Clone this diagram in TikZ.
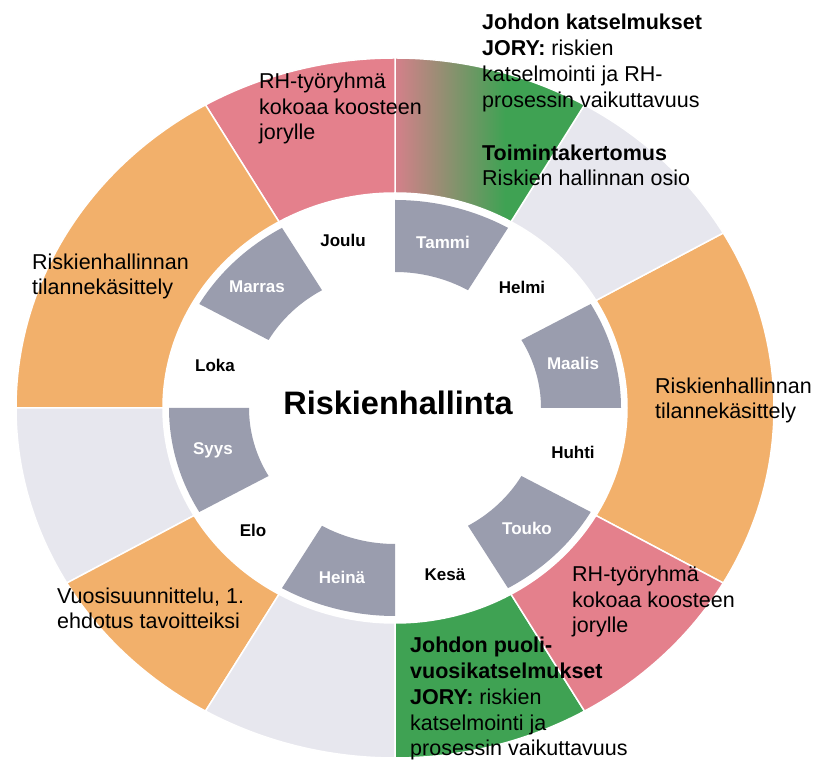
\documentclass[tikz,border=0pt]{standalone}
\usepackage{fontspec}
\setmainfont{Liberation Sans}
\definecolor{rorange}{HTML}{F2B06B}
\definecolor{rpink}{HTML}{E4808C}
\definecolor{rgreyl}{HTML}{E7E7EE}
\definecolor{rgreen}{HTML}{3FA253}
\definecolor{rmonth}{HTML}{9A9DAE}
\newcommand\osecpath[2]{(#1:379 and 350) arc[start angle=#1, end angle=#2, x radius=379, y radius=350] -- (#2:232 and 215) arc[start angle=#2, end angle=#1, x radius=232, y radius=215] -- cycle}
\newcommand\osec[3]{\path[seg, fill=#1] \osecpath{#2}{#3};}
\newcommand\msec[2]{\path[fill=rmonth] (#1:226 and 208) arc[start angle=#1, end angle=#2, x radius=226, y radius=208] -- (#2:146 and 136) arc[start angle=#2, end angle=#1, x radius=146, y radius=136] -- cycle;}
\begin{document}
\begin{tikzpicture}[x=1pt,y=1pt,
  seg/.style={draw=white, line width=1.5pt},
  outtext/.style={font=\fontsize{21.5}{25.8}\selectfont, align=left, anchor=base west, inner sep=0pt},
  mon/.style={font=\bfseries\fontsize{17}{20}\selectfont, inner sep=0pt},
  monw/.style={mon, text=white}]
\useasboundingbox (0,0) rectangle (820,763);
\fill[white] (0,0) rectangle (820,763);
\begin{scope}[shift={(395,355)}]
  \osec{rorange}{-30}{30}
  \osec{rgreyl}{30}{60}
  \begin{scope}
    \clip \osecpath{60}{90};
    \fill[rgreen] (-10,100) rectangle (400,400);
    \shade[left color=rpink!85!gray, right color=rgreen] (0,100) rectangle (110,400);
  \end{scope}
  \path[seg] \osecpath{60}{90};
  \osec{rpink}{90}{120}
  \osec{rorange}{120}{180}
  \osec{rgreyl}{180}{210}
  \osec{rorange}{210}{240}
  \osec{rgreyl}{240}{270}
  \osec{rgreen}{270}{300}
  \osec{rpink}{300}{330}
  \msec{60}{90}
  \msec{0}{30}
  \msec{300}{330}
  \msec{240}{270}
  \msec{180}{210}
  \msec{120}{150}
\end{scope}
% month labels
\node[mon]  (joulu)  at (343,523) {Joulu};
\node[monw] (tammi)  at (443,521) {Tammi};
\node[mon]  (helmi)  at (522,476) {Helmi};
\node[monw] (maalis) at (573,400) {Maalis};
\node[mon]  (huhti)  at (573,311) {Huhti};
\node[monw] (touko)  at (527,235) {Touko};
\node[mon]  (kesa)   at (445,188) {Kesä};
\node[monw] (heina)  at (342,186) {Heinä};
\node[mon]  (elo)    at (253,233) {Elo};
\node[monw] (syys)   at (213,313) {Syys};
\node[mon]  (loka)   at (215,398) {Loka};
\node[monw] (marras) at (257,476) {Marras};
\node[font=\bfseries\fontsize{32.5}{38}\selectfont, inner sep=0pt] (title) at (398,360) {Riskienhallinta};
% outer texts (anchor = baseline of last line)
\node[outtext] (jory1) at (482,577) {\textbf{Johdon katselmukset}\\\textbf{JORY:} riskien\\katselmointi ja RH-\\prosessin vaikuttavuus\\[27pt]\textbf{Toimintakertomus}\\Riskien hallinnan osio};
\node[outtext] (rh1) at (259,623) {RH-työryhmä\\kokoaa koosteen\\jorylle};
\node[outtext] (tk1) at (32,468) {Riskienhallinnan\\tilannekäsittely};
\node[outtext] (tk2) at (655,344) {Riskienhallinnan\\tilannekäsittely};
\node[outtext] (vs) at (57,134) {Vuosisuunnittelu, 1.\\ehdotus tavoitteiksi};
\node[outtext] (rh2) at (572,130) {RH-työryhmä\\kokoaa koosteen\\jorylle};
\node[outtext] (jory2) at (410,7) {\textbf{Johdon puoli-}\\\textbf{vuosikatselmukset}\\\textbf{JORY:} riskien\\katselmointi ja\\prosessin vaikuttavuus};
\end{tikzpicture}
\end{document}
